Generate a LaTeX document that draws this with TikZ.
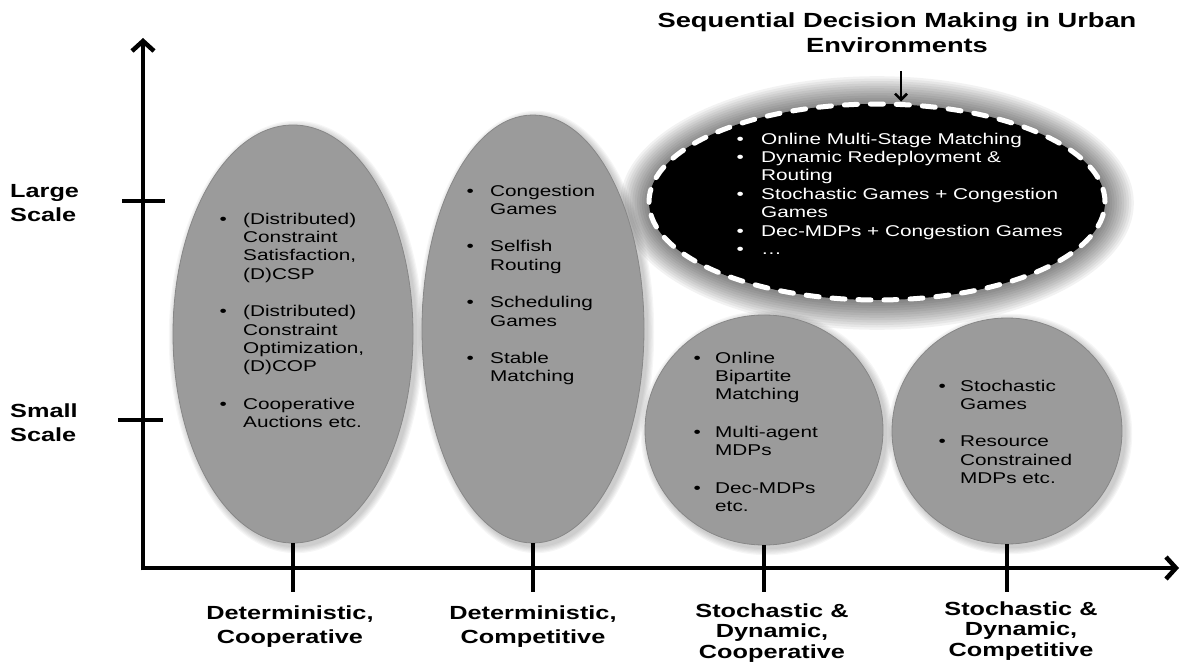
\documentclass[tikz,border=0pt]{standalone}
\usepackage{fontspec}
\setmainfont{Liberation Sans}[FakeStretch=1.33]
\usetikzlibrary{shapes.geometric,arrows.meta}
\definecolor{ellgray}{RGB}{155,155,155}
\definecolor{rimlight}{RGB}{220,220,220}
\definecolor{rimline}{RGB}{135,135,135}
\pgfdeclareradialshading{rim}{\pgfpoint{0bp}{0bp}}{color(0bp)=(ellgray); color(43bp)=(ellgray); color(48.5bp)=(rimlight); color(50bp)=(rimlight); color(75bp)=(rimlight)}
\newlength\bw
\newcommand\bi[1]{\makebox[\bw][l]{•}&#1}
\begin{document}
\begin{tikzpicture}[x=1pt,y=-1pt,
  bubble/.style={ellipse, inner sep=0pt, shading=rim, draw=rimline, line width=0.8pt},
  blackell/.style={ellipse, inner sep=0pt, fill=black, draw=white, line width=5pt, dash pattern=on 13pt off 13pt, line cap=round},
  axis/.style={line width=4.5pt, -{Straight Barb[length=10pt,width=22pt]}},
  tickline/.style={line width=3.5pt},
  lbl/.style={font=\bfseries\fontsize{19}{24}\selectfont, inner sep=0pt, anchor=base},
  lblthree/.style={font=\bfseries\fontsize{19}{20.5}\selectfont, inner sep=0pt, anchor=base},
  itemtext/.style={font=\fontsize{15.6}{18.4}\selectfont, inner sep=0pt, anchor=base west},
  tarrow/.style={line width=2.5pt, -{Straight Barb[length=6pt,width=12pt]}}]
\useasboundingbox (0,0) rectangle (1181,669);

% soft shadows of the grey bubbles
\foreach \cx/\cy/\rx/\ry in {293/334/120/209, 533/329/111/214, 764/430/119/115, 1007/431/115/113}
  \foreach \i in {1,...,6}
    \fill[black, opacity=0.035] (\cx+3,\cy+3) ellipse [x radius=\rx+1.2*\i, y radius=\ry+1.2*\i];
% glow round the black ellipse
\foreach \i in {1,...,12}
  \fill[black, opacity=0.05] (877,203) ellipse [x radius=228+2.4*\i, y radius=98+2.4*\i];

% bubbles
\node[bubble, minimum width=240pt, minimum height=418pt] (e1) at (293,334) {};
\node[bubble, minimum width=222pt, minimum height=428pt] (e2) at (533,329) {};
\node[bubble, minimum width=238pt, minimum height=230pt] (e3) at (764,430) {};
\node[bubble, minimum width=230pt, minimum height=226pt] (e4) at (1007,431) {};
\node[blackell, minimum width=456pt, minimum height=196pt] (e5) at (877,202) {};

% bubble texts
\node[itemtext] (t1) at (219.5,224) {\setlength\bw{23.5pt}\begin{tabular}[t]{@{}l@{}l@{}}
\bi{(Distributed)}\\ &Constraint\\ &Satisfaction,\\ &(D)CSP\\[19pt]
\bi{(Distributed)}\\ &Constraint\\ &Optimization,\\ &(D)COP\\[19pt]
\bi{Cooperative}\\ &Auctions etc.\end{tabular}};
\node[itemtext] (t2) at (466.3,196) {\setlength\bw{23.7pt}\begin{tabular}[t]{@{}l@{}l@{}}
\bi{Congestion}\\ &Games\\[19pt]
\bi{Selfish}\\ &Routing\\[19pt]
\bi{Scheduling}\\ &Games\\[19pt]
\bi{Stable}\\ &Matching\end{tabular}};
\node[itemtext] (t3) at (693.3,363) {\setlength\bw{21.7pt}\begin{tabular}[t]{@{}l@{}l@{}}
\bi{Online}\\ &Bipartite\\ &Matching\\[19pt]
\bi{Multi-agent}\\ &MDPs\\[19pt]
\bi{Dec-MDPs}\\ &etc.\end{tabular}};
\node[itemtext] (t4) at (938.3,391) {\setlength\bw{21.7pt}\begin{tabular}[t]{@{}l@{}l@{}}
\bi{Stochastic}\\ &Games\\[19pt]
\bi{Resource}\\ &Constrained\\ &MDPs etc.\end{tabular}};
\node[itemtext, text=white] (t5) at (736.3,144) {\setlength\bw{24.7pt}\begin{tabular}[t]{@{}l@{}l@{}}
\bi{Online Multi-Stage Matching}\\
\bi{Dynamic Redeployment \&}\\ &Routing\\
\bi{Stochastic Games + Congestion}\\ &Games\\
\bi{Dec-MDPs + Congestion Games}\\
\bi{…}\end{tabular}};

% title and its arrow
\node[lbl, font=\bfseries\fontsize{20.5}{25}\selectfont] (title) at (897,28) {\begin{tabular}[t]{@{}c@{}}Sequential Decision Making in Urban\\ Environments\end{tabular}};
\coordinate (as) at (901,71);
\draw[tarrow] (as) -- (as |- e5.north);

% axes
\coordinate (o) at (143,568);
\coordinate (ytop) at (143,38);
\coordinate (xend) at (1179,568);
\coordinate (o2) at (140.75,568);
\draw[axis] (o2) -- (xend);
\draw[axis] (o) ++(0,2.25) coordinate (o3) (o3) -- (ytop);

% y ticks and labels
\coordinate (lt1) at (122,201); \coordinate (lt2) at (165,201);
\coordinate (st1) at (118,420); \coordinate (st2) at (163,420);
\draw[tickline] (lt1) -- (lt2);
\draw[tickline] (st1) -- (st2);
\node[lbl, anchor=base west] (large) at (10,197) {\begin{tabular}[t]{@{}l@{}}Large\\ Scale\end{tabular}};
\node[lbl, anchor=base west] (small) at (10,417) {\begin{tabular}[t]{@{}l@{}}Small\\ Scale\end{tabular}};

% x ticks
\coordinate (x1) at (293,592); \coordinate (x2) at (533,592);
\coordinate (x3) at (764,592); \coordinate (x4) at (1007,592);
\draw[tickline] (e1.south) -- (x1);
\draw[tickline] (e2.south) -- (x2);
\draw[tickline] (e3.south) -- (x3);
\draw[tickline] (e4.south) -- (x4);

% x labels
\node[lbl] (b1) at (290,619) {\begin{tabular}[t]{@{}c@{}}Deterministic,\\ Cooperative\end{tabular}};
\node[lbl] (b2) at (533,619) {\begin{tabular}[t]{@{}c@{}}Deterministic,\\ Competitive\end{tabular}};
\node[lblthree] (b3) at (772,617) {\begin{tabular}[t]{@{}c@{}}Stochastic \&\\ Dynamic,\\ Cooperative\end{tabular}};
\node[lblthree] (b4) at (1021,615) {\begin{tabular}[t]{@{}c@{}}Stochastic \&\\ Dynamic,\\ Competitive\end{tabular}};
\end{tikzpicture}
\end{document}
